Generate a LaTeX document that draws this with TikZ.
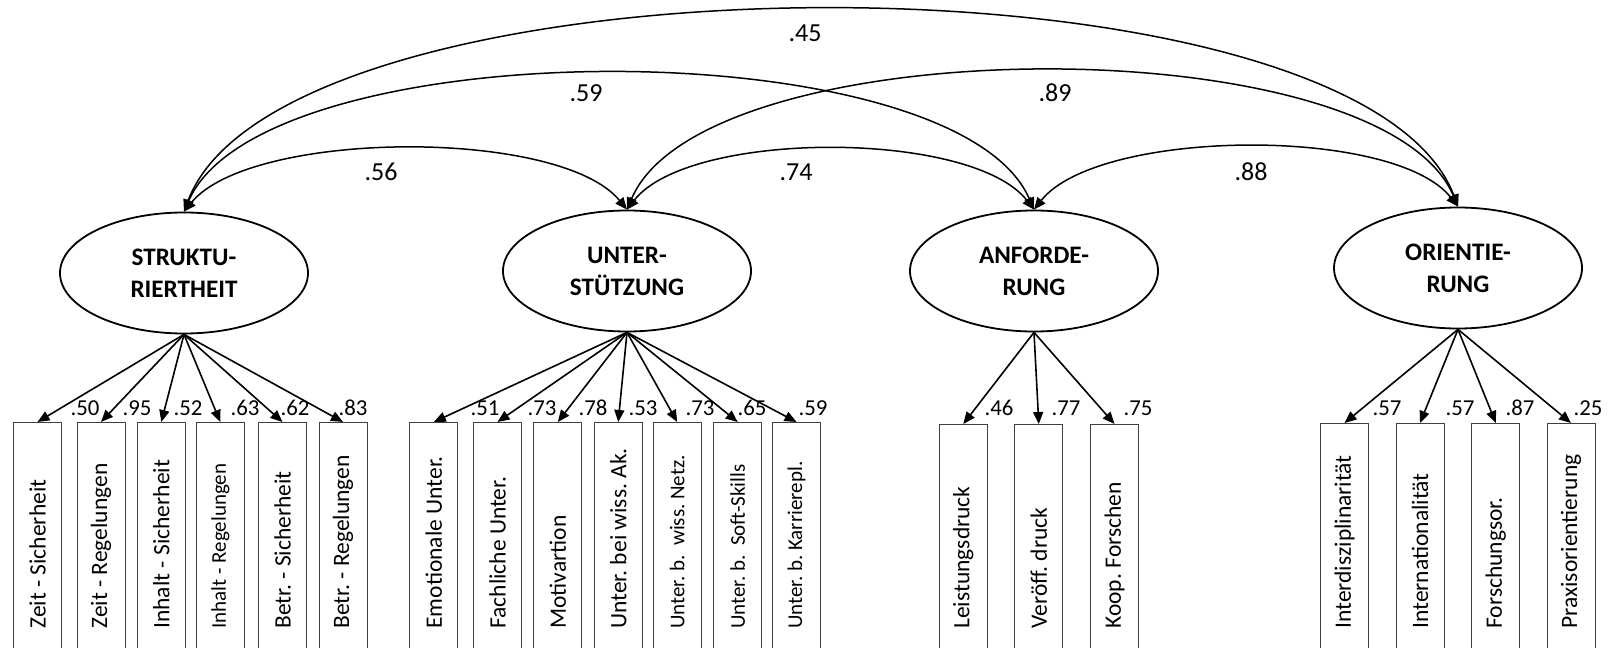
\documentclass[tikz,border=0pt]{standalone}
\usepackage{fontspec}
\setmainfont{Carlito}
\usetikzlibrary{arrows.meta,shapes.geometric}
\newcommand{\smalltxt}{\fontsize{10.5}{12}\selectfont}
\tikzset{
  latent/.style={draw, ellipse, line width=0.9pt, minimum width=124pt, minimum height=60.5pt, inner sep=0pt, align=center, font=\bfseries\fontsize{12.6}{16}\selectfont},
  ind/.style={draw=black!75, line width=0.5pt, anchor=north, minimum width=24pt, minimum height=119pt, inner sep=0pt},
  indtxt/.style={rotate=90, anchor=west, inner sep=0pt, font=\fontsize{11.75}{14}\selectfont},
  load/.style={-{Triangle[length=6pt,width=5pt]}, line width=0.8pt},
  cov/.style={{Triangle[length=6pt,width=5pt]}-{Triangle[length=6pt,width=5pt]}, line width=0.75pt},
  lbl/.style={anchor=base, inner sep=0pt, font=\fontsize{11.4}{13}\selectfont},
  corr/.style={anchor=base, inner sep=0pt, font=\fontsize{13}{15}\selectfont}}
\begin{document}
\frenchspacing
\begin{tikzpicture}[x=0.5pt, y=-0.5pt]
  \useasboundingbox (0,0) rectangle (1608,648);
  \clip (0,0) rectangle (1608,648);

  % latent factors
  \node[latent] (s) at (184,273) {STRUKTU-\\RIERTHEIT};
  \node[latent] (u) at (627,271) {UNTER-\\STÜTZUNG};
  \node[latent] (a) at (1034,271) {ANFORDE-\\RUNG};
  \node[latent] (o) at (1458,268) {ORIENTIE-\\RUNG};

  % indicators
  \foreach \n/\x/\y/\t in {
      z1/37.5/422/{Zeit - Sicherheit}, z2/101/422/{Zeit - Regelungen},
      z3/161.3/422/{Inhalt - Sicherheit}, z4/220.3/422/{\smalltxt Inhalt - Regelungen},
      z5/282.5/422/{Betr. - Sicherheit}, z6/343/422/{Betr. - Regelungen},
      y1/433.8/422/{Emotionale Unter.}, y2/497.5/422/{Fachliche Unter.},
      y3/557.8/422/{Motivartion}, y4/618.2/422/{Unter. bei wiss. Ak.},
      y5/677.2/422/{\smalltxt Unter. b.~~wiss. Netz.}, y6/737.7/422/{\smalltxt Unter. b.~~Soft-Skills},
      y7/796.5/422/{\smalltxt Unter. b. Karrierepl.},
      x1/963.3/424/{Leistungsdruck}, x2/1038.8/424/{Veröff. druck}, x3/1114.5/424/{Koop. Forschen},
      w1/1344.5/423/{Interdisziplinarität}, w2/1420/423/{Internationalität},
      w3/1495.8/423/{Forschungsor.}, w4/1571/423/{Praxisorientierung}} {
    \node[ind] (\n) at (\x,\y) {};
    \node[indtxt] (\n-t) at (\x,629) {\t};
  }

  % loadings
  \foreach \n in {z1,z2,z3,z4,z5,z6} \draw[load] (s.south) -- (\n.north);
  \foreach \n in {y1,y2,y3,y4,y5,y6,y7} \draw[load] (u.south) -- (\n.north);
  \foreach \n in {x1,x2,x3} \draw[load] (a.south) -- (\n.north);
  \foreach \n in {w1,w2,w3,w4} \draw[load] (o.south) -- (\n.north);

  \foreach \n/\x/\v in {z1/85/.50, z2/137/.95, z3/188/.52, z4/245/.63, z5/295/.62, z6/353/.83,
      y1/485/.51, y2/542/.73, y3/593/.78, y4/643/.53, y5/700/.73, y6/752/.65, y7/813/.59,
      x1/999/.46, x2/1066/.77, x3/1138/.75,
      w1/1387/.57, w2/1460/.57, w3/1520/.87, w4/1588/.25}
    \node[lbl] (\n-l) at (\x,415) {\v};

  % correlations
  \draw[cov] (s.north) .. controls +(67,-82) and +(-67,-82) .. (u.north);
  \draw[cov] (u.north) .. controls +(62,-80) and +(-62,-80) .. (a.north);
  \draw[cov] (a.north) .. controls +(64,-81) and +(-64,-81) .. (o.north);
  \draw[cov] (s.north) .. controls +(79,-182) and +(-79,-182) .. (a.north);
  \draw[cov] (u.north) .. controls +(77,-182) and +(-77,-182) .. (o.north);
  \draw[cov] (s.north) .. controls +(100,-265) and +(-100,-265) .. (o.north);

  \node[corr] (c-su) at (381,180) {.56};
  \node[corr] (c-ua) at (796,180) {.74};
  \node[corr] (c-ao) at (1251,180) {.88};
  \node[corr] (c-sa) at (586,101.7) {.59};
  \node[corr] (c-uo) at (1055,101.7) {.89};
  \node[corr] (c-so) at (805,41.7) {.45};
\end{tikzpicture}
\end{document}
